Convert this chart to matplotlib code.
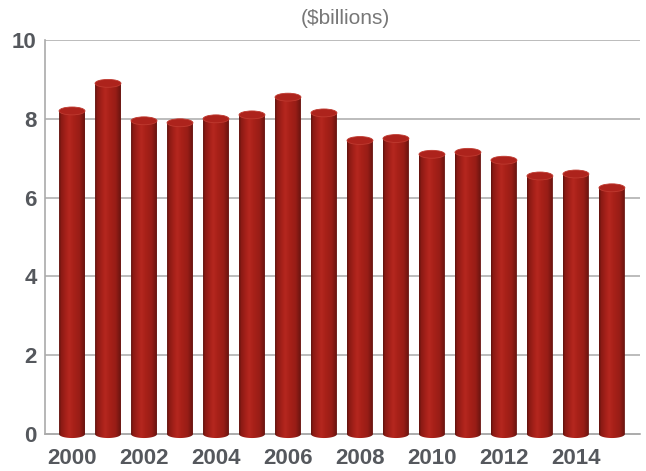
import numpy as np
import matplotlib.pyplot as plt
from matplotlib.colors import LinearSegmentedColormap
from matplotlib.patches import Ellipse, PathPatch
from matplotlib.path import Path

# spending by year, $ billions
years = list(range(2000, 2016))
values = [8.2, 8.9, 7.95, 7.9, 8.0, 8.1, 8.55, 8.15, 7.45, 7.5, 7.1, 7.15, 6.95, 6.55, 6.6, 6.25]
tick_years = [2000, 2002, 2004, 2006, 2008, 2010, 2012, 2014]
yticks = [0, 2, 4, 6, 8, 10]

plt.rcParams['font.family'] = ['Liberation Sans', 'DejaVu Sans']

fig = plt.figure(figsize=(6.46, 4.71), dpi=100)
ax = fig.add_axes([0.0697, 1 - 440 / 471, 0.9210, (440 - 40) / 471])

# shading across the cylinder body
cyl = LinearSegmentedColormap.from_list('cyl', [
    (0.0, '#5e120d'), (0.08, '#8a1a14'), (0.3, '#ab221b'), (0.4, '#b5271f'),
    (0.55, '#a92119'), (0.8, '#981d16'), (1.0, '#671410')])
grad = np.linspace(0, 1, 128).reshape(1, -1)

w = 0.72      # bar width in years
eh = 0.2      # ellipse height in data units

for x, v in zip(years, values):
    x0, x1 = x - w / 2, x + w / 2
    # body: rectangle plus lower half ellipse
    t = np.linspace(np.pi, 2 * np.pi, 40)
    bottom = np.column_stack([x + w / 2 * np.cos(t), eh / 2 * np.sin(t)])
    verts = np.vstack([[x0, v], [x0, 0], bottom, [x1, 0], [x1, v], [x0, v]])
    codes = [Path.MOVETO] + [Path.LINETO] * (len(verts) - 2) + [Path.CLOSEPOLY]
    body = PathPatch(Path(verts, codes), facecolor='none', edgecolor='none', zorder=3)
    ax.add_patch(body)
    im = ax.imshow(grad, cmap=cyl, extent=[x0, x1, -eh, v], aspect='auto',
                   interpolation='bilinear', zorder=3)
    im.set_clip_path(body)
    im.set_clip_box(None)
    ax.add_patch(Ellipse((x, v), w, eh, facecolor='#ad231c', edgecolor='#bf3a30',
                         linewidth=0.6, zorder=4))

ax.set_xlim(1999.25, 2015.78)
ax.set_ylim(-0.15, 10)

for s in ['top', 'right']:
    ax.spines[s].set_visible(False)
ax.spines['left'].set_bounds(0, 10)
ax.spines['bottom'].set_position(('data', 0))
for s in ['left', 'bottom']:
    ax.spines[s].set_color('#aaaaaa')
    ax.spines[s].set_linewidth(1.2)

ax.set_yticks(yticks)
ax.set_xticks(tick_years)
ax.tick_params(axis='both', length=0, labelsize=16, labelcolor='#55585d')
ax.tick_params(axis='x', pad=10)
ax.tick_params(axis='y', pad=6)
for lab in ax.get_xticklabels() + ax.get_yticklabels():
    lab.set_fontweight('bold')

ax.yaxis.grid(True, color='#b0b0b0', linewidth=1.2, zorder=1)
ax.set_axisbelow(True)

fig.text(0.534, 0.960, '($billions)', ha='center', va='center', fontsize=15,
         color='#777777')

plt.savefig('out.png', dpi=100)
